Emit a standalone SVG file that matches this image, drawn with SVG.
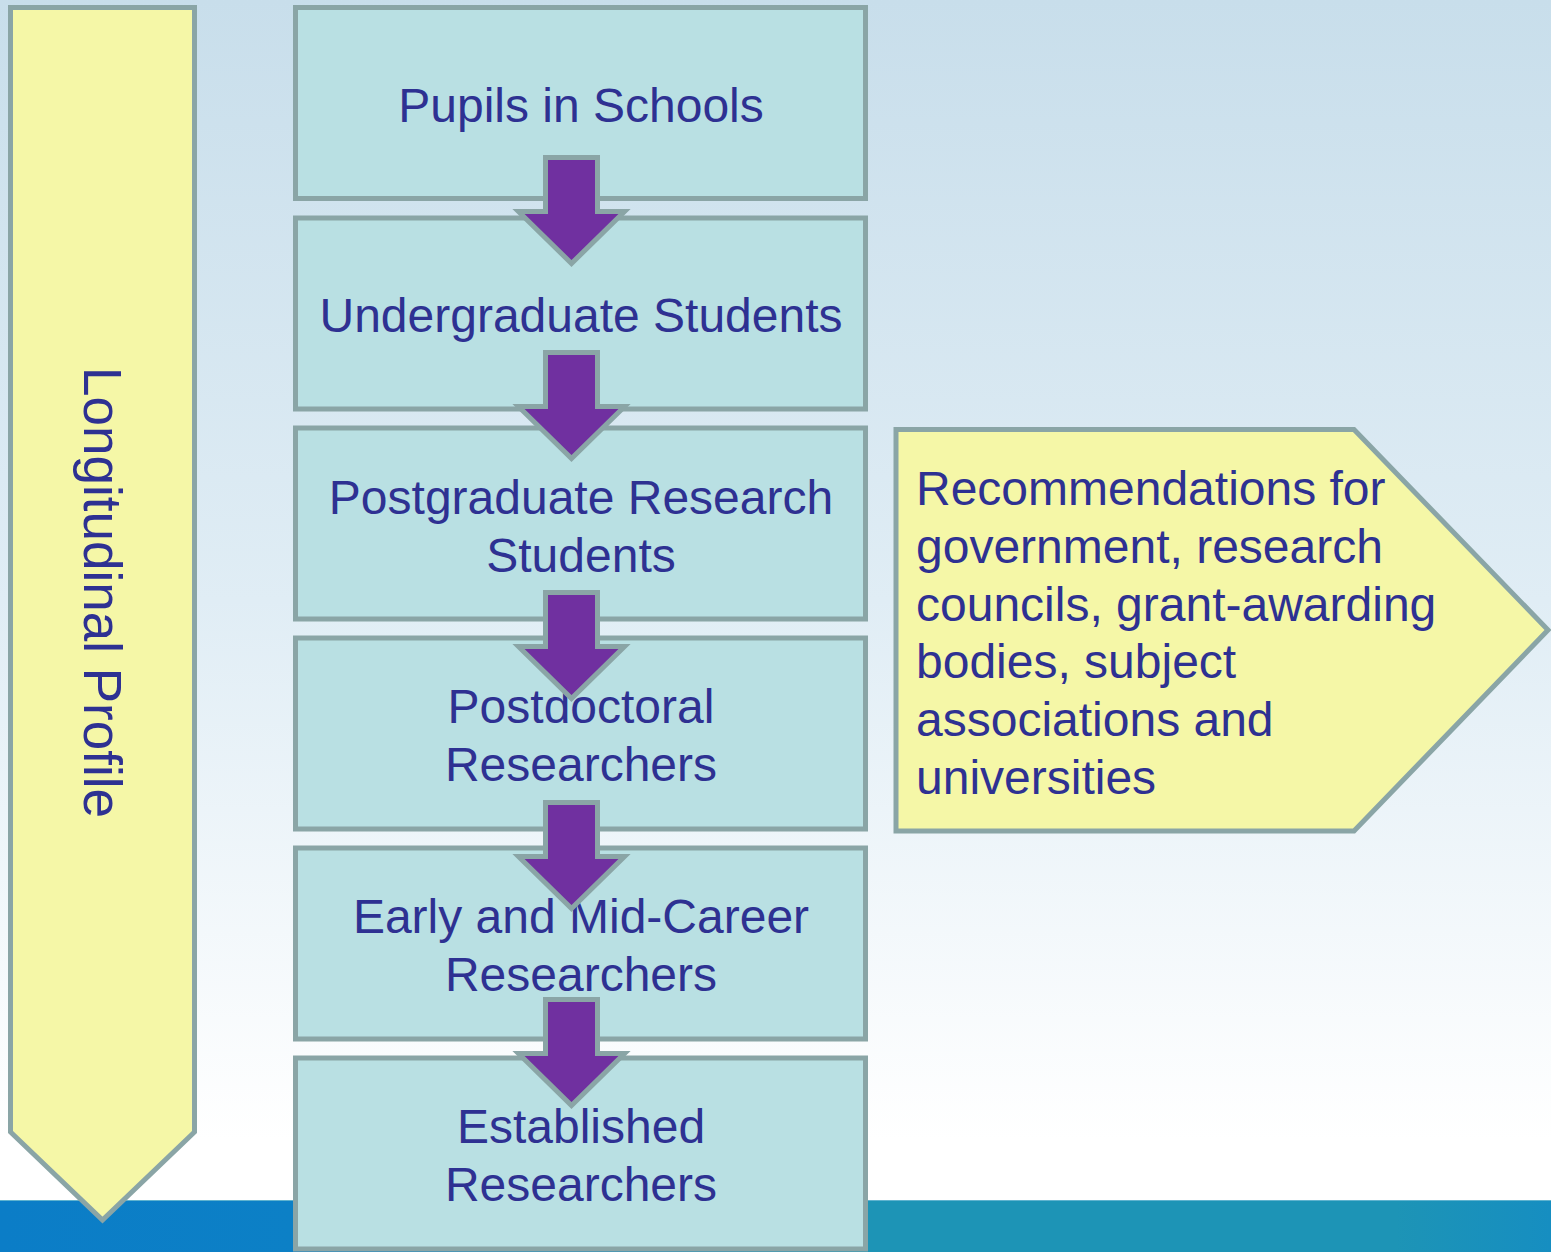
<svg xmlns="http://www.w3.org/2000/svg" width="1551" height="1252" viewBox="0 0 1551 1252">
  <defs>
    <linearGradient id="bg" x1="0" y1="0" x2="0" y2="1200" gradientUnits="userSpaceOnUse">
      <stop offset="0" stop-color="#c8deeb"/>
      <stop offset="0.5" stop-color="#e0edf5"/>
      <stop offset="0.95" stop-color="#ffffff"/>
      <stop offset="1" stop-color="#ffffff"/>
    </linearGradient>
    <linearGradient id="bar" x1="0" y1="0" x2="1551" y2="0" gradientUnits="userSpaceOnUse">
      <stop offset="0" stop-color="#0b7dc7"/>
      <stop offset="0.19" stop-color="#0c80c6"/>
      <stop offset="0.56" stop-color="#1d94b6"/>
      <stop offset="0.9" stop-color="#1d94b6"/>
      <stop offset="1" stop-color="#168ec1"/>
    </linearGradient>
    <path id="dn" d="M-26,0 H26 V54 H53 L0,106 L-53,54 H-26 Z"/>
  </defs>
  <style>
    .box { fill: #b9e0e3; stroke: #8aa5a6; stroke-width: 5; }
    .yel { fill: #f5f7a7; stroke: #8aa5a6; stroke-width: 5; stroke-linejoin: miter; }
    .arr { fill: #7030a0; stroke: #8aa5a6; stroke-width: 5; stroke-linejoin: miter; }
    text { font-family: "Liberation Sans", Arial, sans-serif; fill: #2e3192; }
    .c { font-size: 48px; text-anchor: middle; }
    .r { font-size: 48px; }
  </style>
  <rect x="0" y="0" width="1551" height="1252" fill="url(#bg)"/>
  <rect x="0" y="1200" width="1551" height="52" fill="url(#bar)"/>
  <line x1="0" y1="1200.5" x2="1551" y2="1200.5" stroke="#5fb3cf" stroke-width="1"/>

  <g id="longitudinal-profile">
    <polygon class="yel" points="10.5,7.5 194.5,7.5 194.5,1132 102.5,1220 10.5,1132"/>
    <text transform="translate(84,592.5) rotate(90)" style="font-size:53px" text-anchor="middle">Longitudinal Profile</text>
  </g>

  <g id="pupils">
    <rect class="box" x="295.5" y="7.5" width="570" height="191"/>
    <text class="c" x="581" y="122">Pupils in Schools</text>
  </g>
  <g id="undergraduate">
    <rect class="box" x="295.5" y="218" width="570" height="191"/>
    <text class="c" x="581" y="332">Undergraduate Students</text>
  </g>
  <g id="postgraduate">
    <rect class="box" x="295.5" y="428" width="570" height="191"/>
    <text class="c" x="581" y="514">Postgraduate Research</text>
    <text class="c" x="581" y="572">Students</text>
  </g>
  <g id="postdoctoral">
    <rect class="box" x="295.5" y="638" width="570" height="191"/>
    <text class="c" x="581" y="723">Postdoctoral</text>
    <text class="c" x="581" y="781">Researchers</text>
  </g>
  <g id="early-mid-career">
    <rect class="box" x="295.5" y="848" width="570" height="191"/>
    <text class="c" x="581" y="933">Early and Mid-Career</text>
    <text class="c" x="581" y="991">Researchers</text>
  </g>
  <g id="established">
    <rect class="box" x="295.5" y="1058" width="570" height="191"/>
    <text class="c" x="581" y="1143">Established</text>
    <text class="c" x="581" y="1201">Researchers</text>
  </g>

  <g id="recommendations">
    <polygon class="yel" points="896,429.5 1354,429.5 1548,630 1354,831 896,831"/>
    <text class="r" x="916" y="505">Recommendations for</text>
    <text class="r" x="916" y="563">government, research</text>
    <text class="r" x="916" y="621">councils, grant-awarding</text>
    <text class="r" x="916" y="678">bodies, subject</text>
    <text class="r" x="916" y="736">associations and</text>
    <text class="r" x="916" y="794">universities</text>
  </g>

  <g id="connectors">
    <use href="#dn" class="arr" transform="translate(571.5,157.5)"/>
    <use href="#dn" class="arr" transform="translate(571.5,352.5)"/>
    <use href="#dn" class="arr" transform="translate(571.5,592.5)"/>
    <use href="#dn" class="arr" transform="translate(571.5,802.5)"/>
    <use href="#dn" class="arr" transform="translate(571.5,999.5)"/>
  </g>
</svg>
